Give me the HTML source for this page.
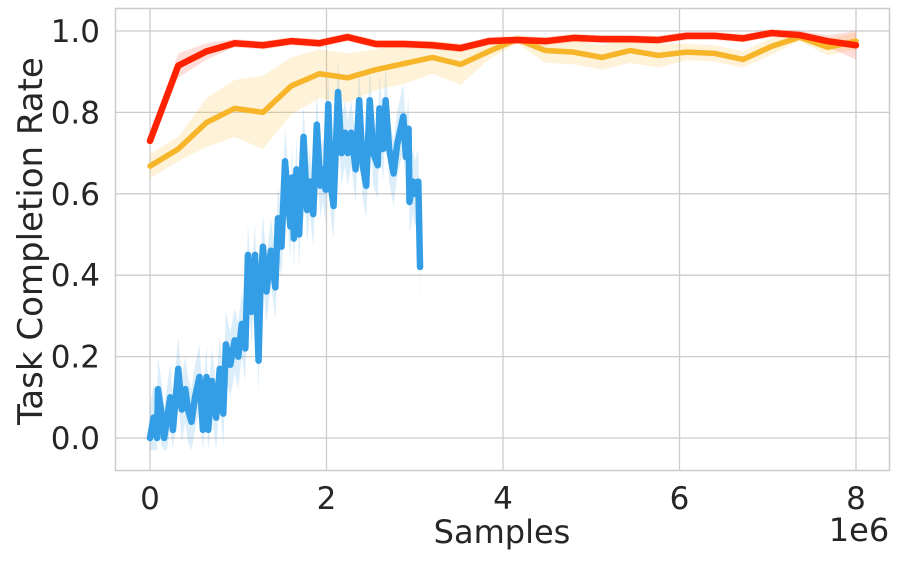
<!DOCTYPE html>
<html><head><meta charset="utf-8"><style>
body{margin:0;background:#fff;}
svg text{font-family:"DejaVu Sans","Liberation Sans",sans-serif;fill:#262626;}
</style></head><body>
<svg id="chart" width="900" height="566" viewBox="0 0 900 566">
<g id="grid"></g>
<g id="series"></g>
<rect x="115.5" y="8.5" width="774" height="462" fill="none" stroke="#cccccc" stroke-width="1.5"/>
<g id="ticks"></g>
<text x="502" y="543" font-size="32" text-anchor="middle">Samples</text>
<text x="859" y="541" font-size="32" text-anchor="middle">1e6</text>
<text transform="translate(42,241) rotate(-90)" font-size="34" text-anchor="middle">Task Completion Rate</text>
</svg>
<script>
const xTicks=[0,2,4,6,8];
const yTicks=[0,0.2,0.4,0.6,0.8,1.0];
const yTickLabels=["0.0","0.2","0.4","0.6","0.8","1.0"];
const redY=[0.73,0.915,0.95,0.97,0.965,0.975,0.97,0.985,0.968,0.968,0.965,0.958,0.975,0.978,0.975,0.983,0.98,0.98,0.978,0.988,0.988,0.982,0.995,0.99,0.975,0.965];
const redErr=[0.01,0.03,0.02,0.01,0.01,0.01,0.01,0.01,0.01,0.01,0.01,0.01,0.01,0.01,0.01,0.01,0.01,0.01,0.01,0.01,0.01,0.01,0.01,0.01,0.015,0.035];
const yellowY=[0.668,0.71,0.775,0.81,0.80,0.865,0.895,0.885,0.905,0.92,0.935,0.918,0.95,0.98,0.952,0.948,0.935,0.952,0.94,0.948,0.945,0.93,0.962,0.985,0.96,0.975];
const yellowErr=[0.03,0.03,0.06,0.07,0.09,0.07,0.06,0.06,0.05,0.05,0.04,0.05,0.02,0.01,0.03,0.03,0.03,0.03,0.03,0.02,0.02,0.02,0.02,0.01,0.02,0.02];
const blueX=[0.00,0.04,0.08,0.09,0.13,0.16,0.19,0.23,0.26,0.32,0.36,0.40,0.43,0.47,0.51,0.56,0.60,0.64,0.66,0.70,0.75,0.79,0.83,0.86,0.91,0.96,1.00,1.04,1.08,1.11,1.15,1.19,1.23,1.25,1.28,1.32,1.37,1.42,1.45,1.49,1.53,1.59,1.61,1.63,1.66,1.69,1.74,1.78,1.81,1.85,1.89,1.93,1.96,1.99,2.02,2.05,2.08,2.13,2.17,2.21,2.24,2.28,2.33,2.37,2.41,2.45,2.49,2.53,2.58,2.60,2.64,2.67,2.71,2.76,2.80,2.87,2.90,2.93,2.94,2.98,3.00,3.04,3.06];
const blueY=[0.00,0.05,0.00,0.12,0.06,0.00,0.044,0.10,0.02,0.17,0.07,0.12,0.07,0.04,0.10,0.15,0.02,0.15,0.02,0.14,0.05,0.17,0.06,0.23,0.18,0.24,0.20,0.28,0.22,0.45,0.31,0.45,0.19,0.36,0.47,0.36,0.46,0.37,0.54,0.47,0.68,0.52,0.64,0.49,0.66,0.50,0.74,0.56,0.63,0.55,0.77,0.62,0.66,0.61,0.82,0.62,0.57,0.85,0.70,0.75,0.70,0.75,0.66,0.83,0.67,0.62,0.83,0.70,0.67,0.81,0.71,0.83,0.71,0.65,0.72,0.79,0.69,0.76,0.58,0.63,0.60,0.63,0.42];
const blueErr=0.08;

const NS="http://www.w3.org/2000/svg";
const X=v=>150+v*88.25, Y=v=>438-v*407;
function mk(tag,parent,attrs){const e=document.createElementNS(NS,tag);for(const k in attrs)e.setAttribute(k,attrs[k]);parent.appendChild(e);return e;}
const grid=document.getElementById('grid'),ticks=document.getElementById('ticks'),ser=document.getElementById('series');
xTicks.forEach(t=>{
  const l=mk('line',grid,{x1:X(t),x2:X(t),y1:8,y2:470,stroke:'#cccccc','stroke-width':1.3});
  
  
  const tx=mk('text',ticks,{x:X(t),y:509,'font-size':31,'text-anchor':'middle'});tx.textContent=t;
  
  
});
yTicks.forEach((t,i)=>{
  const l=mk('line',grid,{x1:115,x2:890,y1:Y(t),y2:Y(t),stroke:'#cccccc','stroke-width':1.3});
  
  
  const tx=mk('text',ticks,{x:100,y:Y(t)+11,'font-size':31,'text-anchor':'end'});tx.textContent=yTickLabels[i];
  
  
});
function band(xs,ys,err,fill,op,name){
  const e=i=>Array.isArray(err)?err[i]:err;
  let d='M'+xs.map((x,i)=>X(x)+','+Y(Math.min(1.02,ys[i]+e(i)))).join('L');
  d+='L'+xs.map((x,i)=>[X(x),Y(Math.max(-0.03,ys[i]-e(i)))]).reverse().map(p=>p.join(',')).join('L')+'Z';
  const p=mk('path',ser,{d:d,fill:fill,'fill-opacity':op,stroke:'none'});
  
  
}
function line(xs,ys,color,w,name){
  const p=mk('path',ser,{d:'M'+xs.map((x,i)=>X(x)+','+Y(ys[i])).join('L'),fill:'none',stroke:color,'stroke-width':w,'stroke-linejoin':'round','stroke-linecap':'round'});
  
  
}
const gridX=redY.map((_,i)=>i*0.32);
band(blueX,blueY,blueErr,'#3399e6',0.17,'blue-band');
band(gridX,yellowY,yellowErr,'#f7b52a',0.18,'yellow-band');
band(gridX,redY,redErr,'#ff2200',0.15,'red-band');
line(blueX,blueY,'#339ee6',6.5,'blue-line');
line(gridX,yellowY,'#f7b52a',5.5,'yellow-line');
line(gridX,redY,'#ff2200',6.5,'red-line');
</script>
</body></html>
